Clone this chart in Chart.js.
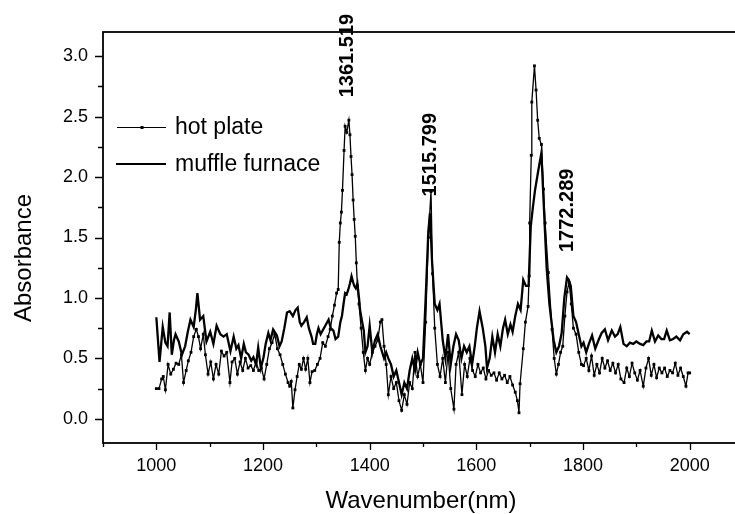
<!DOCTYPE html>
<html>
<head>
<meta charset="utf-8">
<script src="https://cdn.jsdelivr.net/npm/chart.js@4.4.1/dist/chart.umd.min.js"></script>
<style>
  html, body { margin: 0; padding: 0; background: #fff; overflow: hidden; }
  #wrap { width: 760px; height: 514px; }
</style>
</head>
<body>
<div id="wrap"><canvas id="myChart"></canvas></div>
<script>
// Hot plate spectrum (wavenumber, absorbance)
const hotWn = [
    1000, 1005, 1010, 1013, 1017, 1022, 1027, 1032, 1037, 1042,
    1047, 1051, 1056, 1060, 1065, 1070, 1075, 1079, 1083, 1088,
    1092, 1097, 1102, 1107, 1112, 1117, 1122, 1127, 1132, 1138,
    1142, 1147, 1152, 1157, 1162, 1167, 1172, 1177, 1182, 1187,
    1192, 1197, 1202, 1207, 1212, 1217, 1222, 1227, 1232, 1237,
    1242, 1247, 1250, 1253, 1256, 1260, 1264, 1268, 1272, 1276,
    1280, 1284, 1288, 1292, 1297, 1302, 1307, 1312, 1317, 1322,
    1326, 1330, 1334, 1338, 1341, 1343, 1345, 1347, 1349, 1352,
    1354, 1357, 1361, 1363, 1365, 1367, 1369, 1371, 1373, 1375,
    1377, 1380, 1384, 1388, 1392, 1396, 1400, 1405, 1410, 1415,
    1420, 1423, 1427, 1431, 1435, 1440, 1445, 1450, 1455, 1460,
    1465, 1470, 1475, 1480, 1485, 1490, 1495, 1500, 1505, 1510,
    1515, 1518, 1522, 1527, 1532, 1537, 1542, 1547, 1552, 1558,
    1562, 1567, 1573, 1578, 1583, 1588, 1593, 1598, 1603, 1608,
    1613, 1618, 1623, 1628, 1633, 1638, 1643, 1648, 1653, 1658,
    1663, 1668, 1673, 1677, 1680, 1682, 1688, 1692, 1697, 1699,
    1700, 1703, 1704, 1709, 1712, 1715, 1718, 1722, 1726, 1729,
    1735, 1742, 1746, 1750, 1754, 1758, 1762, 1766, 1770, 1774,
    1778, 1782, 1787, 1792, 1797, 1801, 1806, 1811, 1816, 1821,
    1826, 1831, 1836, 1841, 1846, 1851, 1856, 1861, 1866, 1871,
    1877, 1882, 1887, 1892, 1897, 1902, 1907, 1913, 1918, 1923,
    1928, 1933, 1938, 1943, 1948, 1953, 1958, 1963, 1968, 1973,
    1978, 1983, 1988, 1993, 1997, 2000
];
const hotAbs = [
    0.25, 0.25, 0.33, 0.35, 0.24, 0.45, 0.37, 0.41, 0.46, 0.45,
    0.53, 0.30, 0.40, 0.48, 0.55, 0.68, 0.74, 0.68, 0.58, 0.70,
    0.53, 0.37, 0.47, 0.33, 0.45, 0.37, 0.56, 0.52, 0.55, 0.30,
    0.47, 0.50, 0.37, 0.47, 0.40, 0.50, 0.42, 0.44, 0.40, 0.47,
    0.40, 0.42, 0.33, 0.45, 0.58, 0.63, 0.70, 0.58, 0.53, 0.45,
    0.37, 0.30, 0.27, 0.31, 0.09, 0.24, 0.35, 0.45, 0.41, 0.50,
    0.41, 0.50, 0.30, 0.39, 0.40, 0.45, 0.50, 0.63, 0.60, 0.68,
    0.74, 0.85, 0.94, 1.04, 1.07, 1.46, 1.62, 1.71, 1.89, 2.22,
    2.42, 2.37, 2.47, 2.35, 2.17, 2.02, 1.81, 1.65, 1.51, 1.29,
    1.10, 0.95, 0.75, 0.55, 0.40, 0.50, 0.45, 0.55, 0.60, 0.65,
    0.80, 0.82, 0.60, 0.45, 0.20, 0.35, 0.25, 0.30, 0.15, 0.07,
    0.20, 0.12, 0.30, 0.25, 0.55, 0.35, 0.45, 0.30, 0.80, 1.50,
    1.88, 1.20, 0.75, 0.45, 0.35, 0.50, 0.30, 0.55, 0.25, 0.08,
    0.45, 0.55, 0.20, 0.45, 0.35, 0.50, 0.40, 0.35, 0.45, 0.38,
    0.42, 0.33, 0.40, 0.36, 0.38, 0.32, 0.38, 0.33, 0.36, 0.30,
    0.35, 0.28, 0.22, 0.15, 0.05, 0.29, 0.58, 0.80, 0.93, 1.18,
    1.62, 2.18, 2.62, 2.92, 2.72, 2.47, 2.32, 2.27, 1.90, 1.62,
    1.21, 0.74, 0.50, 0.37, 0.45, 0.55, 0.60, 0.85, 1.05, 1.13,
    0.95, 0.75, 0.70, 0.55, 0.45, 0.44, 0.50, 0.40, 0.52, 0.36,
    0.45, 0.38, 0.50, 0.42, 0.48, 0.40, 0.46, 0.38, 0.45, 0.33,
    0.30, 0.42, 0.35, 0.46, 0.38, 0.32, 0.40, 0.27, 0.42, 0.50,
    0.36, 0.45, 0.34, 0.42, 0.38, 0.42, 0.35, 0.40, 0.38, 0.46,
    0.36, 0.42, 0.35, 0.27, 0.38, 0.38
];

// Muffle furnace spectrum
const muffleWn = [
    1000, 1006, 1012, 1017, 1021, 1025, 1029, 1033, 1036, 1042,
    1048, 1054, 1059, 1064, 1070, 1074, 1077, 1082, 1088, 1094,
    1101, 1107, 1113, 1120, 1126, 1132, 1139, 1145, 1150, 1154,
    1159, 1164, 1168, 1173, 1178, 1182, 1187, 1191, 1196, 1201,
    1205, 1210, 1214, 1219, 1226, 1231, 1235, 1240, 1245, 1250,
    1256, 1261, 1265, 1269, 1272, 1277, 1282, 1286, 1291, 1294,
    1298, 1301, 1304, 1308, 1313, 1318, 1323, 1327, 1332, 1336,
    1341, 1345, 1348, 1351, 1354, 1357, 1360, 1363, 1366, 1369,
    1371, 1374, 1377, 1380, 1382, 1386, 1389, 1392, 1396, 1400,
    1405, 1410, 1415, 1420, 1427, 1431, 1435, 1440, 1445, 1450,
    1455, 1460, 1465, 1470, 1475, 1480, 1485, 1490, 1495, 1500,
    1505, 1510, 1513, 1517, 1522, 1527, 1531, 1537, 1542, 1547,
    1552, 1557, 1562, 1567, 1572, 1577, 1582, 1587, 1592, 1597,
    1601, 1606, 1612, 1617, 1620, 1625, 1630, 1635, 1640, 1645,
    1650, 1654, 1659, 1664, 1668, 1673, 1678, 1683, 1688, 1693,
    1698, 1702, 1706, 1710, 1716, 1722, 1726, 1732, 1737, 1741,
    1745, 1750, 1755, 1760, 1765, 1770, 1773, 1777, 1782, 1787,
    1792, 1797, 1801, 1806, 1811, 1817, 1823, 1829, 1835, 1841,
    1847, 1854, 1860, 1865, 1870, 1876, 1882, 1888, 1894, 1900,
    1907, 1913, 1919, 1924, 1929, 1935, 1941, 1947, 1952, 1957,
    1963, 1969, 1975, 1982, 1988, 1995, 2000
];
const muffleAbs = [
    0.84, 0.47, 0.76, 0.63, 0.60, 0.88, 0.53, 0.65, 0.70, 0.64,
    0.53, 0.60, 0.72, 0.82, 0.76, 0.90, 1.04, 0.82, 0.85, 0.64,
    0.72, 0.62, 0.77, 0.70, 0.68, 0.70, 0.56, 0.68, 0.58, 0.61,
    0.50, 0.62, 0.55, 0.53, 0.48, 0.51, 0.45, 0.59, 0.42, 0.51,
    0.62, 0.71, 0.65, 0.74, 0.69, 0.60, 0.64, 0.75, 0.88, 0.89,
    0.85, 0.90, 0.92, 0.80, 0.77, 0.80, 0.84, 0.75, 0.68, 0.62,
    0.62, 0.70, 0.75, 0.70, 0.74, 0.78, 0.82, 0.75, 0.73, 0.66,
    0.68, 0.80, 0.85, 0.95, 1.04, 1.03, 1.07, 1.12, 1.18, 1.13,
    1.10, 1.08, 1.12, 1.00, 0.90, 0.80, 0.73, 0.55, 0.60, 0.77,
    0.55, 0.65, 0.70, 0.60, 0.50, 0.55, 0.50, 0.45, 0.35, 0.40,
    0.30, 0.20, 0.30, 0.25, 0.40, 0.50, 0.40, 0.55, 0.45, 0.50,
    1.00, 1.55, 1.70, 1.30, 0.95, 0.90, 0.95, 0.65, 0.50, 0.70,
    0.45, 0.60, 0.70, 0.65, 0.50, 0.60, 0.55, 0.60, 0.45, 0.60,
    0.75, 0.89, 0.75, 0.60, 0.42, 0.50, 0.68, 0.55, 0.70, 0.60,
    0.75, 0.82, 0.70, 0.78, 0.72, 0.85, 0.95, 0.90, 1.15, 1.10,
    1.10, 1.59, 1.75, 1.89, 2.05, 2.20, 1.81, 1.24, 0.95, 0.80,
    0.65, 0.55, 0.60, 0.71, 1.00, 1.17, 1.15, 1.10, 0.85, 0.80,
    0.70, 0.60, 0.63, 0.55, 0.62, 0.69, 0.58, 0.65, 0.71, 0.74,
    0.65, 0.73, 0.68, 0.70, 0.76, 0.62, 0.60, 0.63, 0.62, 0.64,
    0.62, 0.61, 0.64, 0.64, 0.73, 0.64, 0.69, 0.66, 0.66, 0.73,
    0.65, 0.66, 0.68, 0.65, 0.70, 0.72, 0.70
];

// Tick labels and peak annotations
const xTickLabels = [1000, 1200, 1400, 1600, 1800, 2000];
const yTickLabels = [0.0, 0.5, 1.0, 1.5, 2.0, 2.5, 3.0];
const peakLabels = ['1361.519', '1515.799', '1772.289'];
const peakLabelWn = [1369, 1525, 1782];
const peakLabelAbs = [2.66, 1.84, 1.38];

const FONT = '"Liberation Sans", Arial, sans-serif';

// frame, minor/major ticks, axis titles, legend and peak labels
const decorPlugin = {
    id: 'decor',
    afterDraw(chart) {
        const { ctx, chartArea: a, scales: { x, y } } = chart;
        ctx.save();
        ctx.strokeStyle = '#000';
        ctx.fillStyle = '#000';

        // box
        ctx.lineWidth = 1.8;
        ctx.strokeRect(a.left, a.top, a.right - a.left, a.bottom - a.top);

        // ticks (outward)
        ctx.lineWidth = 1.3;
        ctx.beginPath();
        for (let v = 900; v <= 2100; v += 100) {
            const px = Math.round(x.getPixelForValue(v)) + 0.5;
            const len = v % 200 === 0 ? 7 : 4;
            ctx.moveTo(px, a.bottom);
            ctx.lineTo(px, a.bottom + len);
        }
        for (let i = 0; i <= 12; i++) {
            const py = Math.round(y.getPixelForValue(i * 0.25)) + 0.5;
            const len = i % 2 === 0 ? 8 : 5;
            ctx.moveTo(a.left, py);
            ctx.lineTo(a.left - len, py);
        }
        ctx.stroke();

        // axis titles
        ctx.font = '24px ' + FONT;
        ctx.textAlign = 'center';
        ctx.textBaseline = 'alphabetic';
        ctx.fillText('Wavenumber(nm)', (a.left + a.right) / 2 - 2, 508);
        ctx.save();
        ctx.translate(31, 258);
        ctx.rotate(-Math.PI / 2);
        ctx.fillText('Absorbance', 0, 0);
        ctx.restore();

        // legend
        ctx.font = '23px ' + FONT;
        ctx.textAlign = 'left';
        ctx.lineWidth = 1.1;
        ctx.beginPath();
        ctx.moveTo(117, 127.5);
        ctx.lineTo(166, 127.5);
        ctx.stroke();
        ctx.fillRect(140.5, 126, 3, 3);
        ctx.fillText('hot plate', 175, 134);
        ctx.lineWidth = 2;
        ctx.beginPath();
        ctx.moveTo(116, 164);
        ctx.lineTo(166, 164);
        ctx.stroke();
        ctx.fillText('muffle furnace', 175, 171);

        // peak labels, reading bottom-to-top
        ctx.font = 'bold 20px ' + FONT;
        peakLabels.forEach((txt, i) => {
            ctx.save();
            ctx.translate(x.getPixelForValue(peakLabelWn[i]), y.getPixelForValue(peakLabelAbs[i]));
            ctx.rotate(-Math.PI / 2);
            ctx.textAlign = 'left';
            ctx.fillText(txt, 0, 0);
            ctx.restore();
        });
        ctx.restore();
    }
};

const ctx = document.getElementById('myChart').getContext('2d');

const data = {
    datasets: [
        {
            label: 'hot plate',
            data: hotWn.map((w, i) => ({ x: w, y: hotAbs[i] })),
            borderColor: '#000',
            backgroundColor: '#000',
            borderWidth: 1.3,
            pointStyle: 'rect',
            pointRadius: 2,
            pointBorderWidth: 0,
            tension: 0
        },
        {
            label: 'muffle furnace',
            data: muffleWn.map((w, i) => ({ x: w, y: muffleAbs[i] })),
            borderColor: '#000',
            borderWidth: 2.3,
            pointRadius: 0,
            tension: 0
        }
    ]
};

const myChart = new Chart(ctx, {
    type: 'line',
    data: data,
    options: {
        responsive: true,
        maintainAspectRatio: false,
        animation: false,
        layout: { padding: { left: 0, right: 17, top: 32, bottom: 0 } },
        plugins: {
            legend: { display: false },
            tooltip: { enabled: false }
        },
        scales: {
            x: {
                type: 'linear',
                min: 900,
                max: 2100,
                afterBuildTicks: s => { s.ticks = xTickLabels.map(v => ({ value: v })); },
                afterFit: s => { s.height = 71; },
                grid: { display: false, drawTicks: false },
                border: { display: false },
                ticks: {
                    color: '#000',
                    padding: 12,
                    font: { family: FONT, size: 18 },
                    maxRotation: 0,
                    callback: v => String(v)
                }
            },
            y: {
                type: 'linear',
                min: -0.2,
                max: 3.2,
                afterBuildTicks: s => { s.ticks = yTickLabels.map(v => ({ value: v })); },
                afterFit: s => { s.width = 103; },
                grid: { display: false, drawTicks: false },
                border: { display: false },
                ticks: {
                    color: '#000',
                    padding: 15,
                    font: { family: FONT, size: 18 },
                    callback: v => Number(v).toFixed(1)
                }
            }
        }
    },
    plugins: [decorPlugin]
});
</script>
</body>
</html>
